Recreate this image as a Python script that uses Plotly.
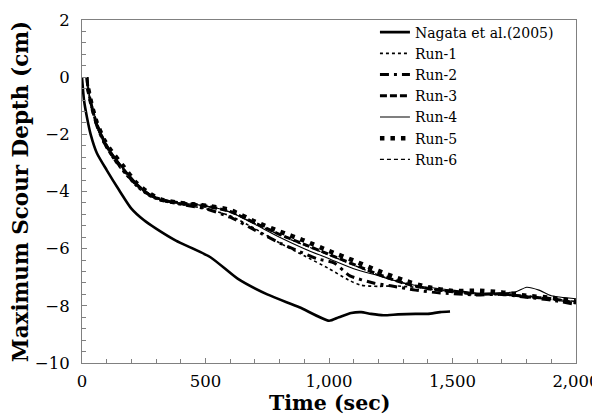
import plotly.graph_objects as go

# ---------------- data ----------------
nagata_t = [0, 8, 20, 35, 60, 100, 150, 200, 250, 300, 380, 520, 630, 750, 880, 1000,
            1040, 1090, 1130, 1170, 1220, 1280, 1350, 1400, 1450, 1490]
nagata_y = [0, -0.8, -1.4, -2.0, -2.65, -3.25, -3.95, -4.6, -5.0, -5.3, -5.72, -6.3, -7.05,
            -7.6, -8.05, -8.52, -8.4, -8.25, -8.22, -8.28, -8.33, -8.3, -8.28, -8.28, -8.22, -8.2]

run1_t = [20, 25, 40, 60, 90, 130, 180, 230, 280, 330, 400, 500, 600, 700, 800, 900, 1000,
          1080, 1130, 1200, 1260, 1350, 1450, 1550, 1650, 1750, 1850, 1950, 2000]
run1_y = [0, -0.5, -1.1, -1.7, -2.35, -2.9, -3.45, -3.9, -4.2, -4.35, -4.45, -4.6, -4.85,
          -5.3, -5.8, -6.25, -6.7, -7.1, -7.28, -7.32, -7.3, -7.35, -7.45, -7.55, -7.6,
          -7.62, -7.7, -7.8, -7.85]

run2_t = [20, 25, 40, 60, 90, 130, 180, 230, 280, 330, 400, 500, 600, 700, 800, 880, 950,
          1020, 1085, 1180, 1250, 1350, 1450, 1550, 1600, 1700, 1800, 1900, 2000]
run2_y = [0, -0.45, -1.05, -1.7, -2.3, -2.85, -3.4, -3.85, -4.15, -4.3, -4.45, -4.6, -4.9,
          -5.35, -5.8, -6.1, -6.35, -6.5, -6.95, -7.2, -7.3, -7.45, -7.55, -7.6, -7.62,
          -7.6, -7.7, -7.8, -7.95]

run3_t = [20, 25, 40, 60, 90, 120, 170, 220, 270, 320, 400, 500, 600, 700, 800, 900, 1000,
          1100, 1200, 1300, 1400, 1500, 1600, 1700, 1800, 1900, 2000]
run3_y = [0, -0.45, -1.05, -1.65, -2.25, -2.7, -3.25, -3.75, -4.1, -4.3, -4.4, -4.5, -4.7,
          -5.1, -5.5, -5.85, -6.2, -6.55, -6.9, -7.2, -7.4, -7.5, -7.6, -7.58, -7.68,
          -7.75, -7.9]

run4_t = [20, 30, 50, 80, 110, 160, 210, 260, 310, 400, 500, 600, 700, 800, 900, 1000,
          1100, 1200, 1300, 1400, 1500, 1600, 1700, 1760, 1800, 1850, 1900, 2000]
run4_y = [0, -0.6, -1.3, -2.0, -2.5, -3.1, -3.6, -4.0, -4.25, -4.4, -4.5, -4.72, -5.15,
          -5.6, -6.0, -6.35, -6.7, -6.95, -7.2, -7.35, -7.45, -7.55, -7.55, -7.5, -7.35,
          -7.45, -7.65, -7.75]

run5_t = [25, 40, 60, 90, 120, 170, 220, 270, 320, 380, 450, 520, 600, 700, 800, 900,
          1000, 1100, 1200, 1300, 1400, 1500, 1600, 1700, 1800, 1900, 2000]
run5_y = [-0.4, -1.0, -1.6, -2.2, -2.6, -3.15, -3.7, -4.05, -4.28, -4.38, -4.45, -4.52,
          -4.65, -5.05, -5.4, -5.72, -6.08, -6.42, -6.78, -7.1, -7.35, -7.48, -7.47,
          -7.53, -7.65, -7.72, -7.85]

run6_t = [20, 25, 40, 60, 90, 120, 170, 220, 270, 320, 400, 500, 600, 700, 800, 900, 1000,
          1100, 1200, 1300, 1400, 1500, 1600, 1700, 1800, 1900, 2000]
run6_y = [0, -0.45, -1.05, -1.65, -2.25, -2.7, -3.25, -3.75, -4.1, -4.3, -4.42, -4.52,
          -4.72, -5.12, -5.52, -5.88, -6.22, -6.58, -6.92, -7.2, -7.4, -7.5, -7.58,
          -7.6, -7.7, -7.78, -7.9]

x_ticks = [0, 500, 1000, 1500, 2000]
x_tick_labels = ["0", "500", "1,000", "1,500", "2,000"]
x_title = "Time (sec)"
y_title = "Maximum Scour Depth (cm)"

# ---------------- figure ----------------
fig = go.Figure()

def add(t, y, name, width, dash):
    fig.add_trace(go.Scatter(x=t, y=y, mode="lines", name=name,
                             line=dict(color="black", width=width, dash=dash, shape="spline",
                                       smoothing=0.6)))

add(nagata_t, nagata_y, "Nagata et al.(2005)", 2.6, "solid")
add(run1_t, run1_y, "Run-1", 1.6, "dot")
add(run2_t, run2_y, "Run-2", 3, "9px,5px,3px,5px")
add(run3_t, run3_y, "Run-3", 3, "7px,3px")
add(run4_t, run4_y, "Run-4", 1.1, "solid")
add(run5_t, run5_y, "Run-5", 4.5, "4.5px,6px")
add(run6_t, run6_y, "Run-6", 1.3, "4px,3px")

serif = "DejaVu Serif"
axis_common = dict(showline=True, linecolor="#808080", linewidth=1, mirror=True,
                   showgrid=False, zeroline=False, ticks="inside", ticklen=5,
                   tickcolor="#808080", automargin=False, ticklabeloverflow="allow",
                   tickfont=dict(family=serif, size=16.5, color="black"))

fig.update_layout(
    width=592, height=409,
    margin=dict(l=74, r=24, t=9, b=54),
    paper_bgcolor="white", plot_bgcolor="white",
    font=dict(family=serif, color="black"),
    xaxis=dict(range=[0, 2000], tickvals=x_ticks, ticktext=x_tick_labels,
               ticklabelstandoff=3,
               minor=dict(dtick=100, ticks="inside", ticklen=4, tickcolor="#808080"),
               **axis_common),
    yaxis=dict(range=[-10, 2], dtick=2, ticklabelstandoff=8,
               minor=dict(dtick=0.4, ticks="inside", ticklen=4, tickcolor="#808080"),
               title=dict(text="<b>" + y_title + "</b>",
                          font=dict(family=serif, size=21.5), standoff=2),
               **axis_common),
    legend=dict(x=0.593, y=1.01, xanchor="left", yanchor="top",
                bgcolor="rgba(0,0,0,0)", borderwidth=0,
                font=dict(family=serif, size=14, color="black"),
                itemwidth=30, tracegroupgap=0),
    showlegend=True,
    annotations=[dict(text="<b>" + x_title + "</b>", xref="paper", yref="paper",
                      x=0.5, y=-0.116, xanchor="center", yanchor="middle",
                      showarrow=False, font=dict(family=serif, size=20.5, color="black"))],
)

fig.write_html("out.html")
